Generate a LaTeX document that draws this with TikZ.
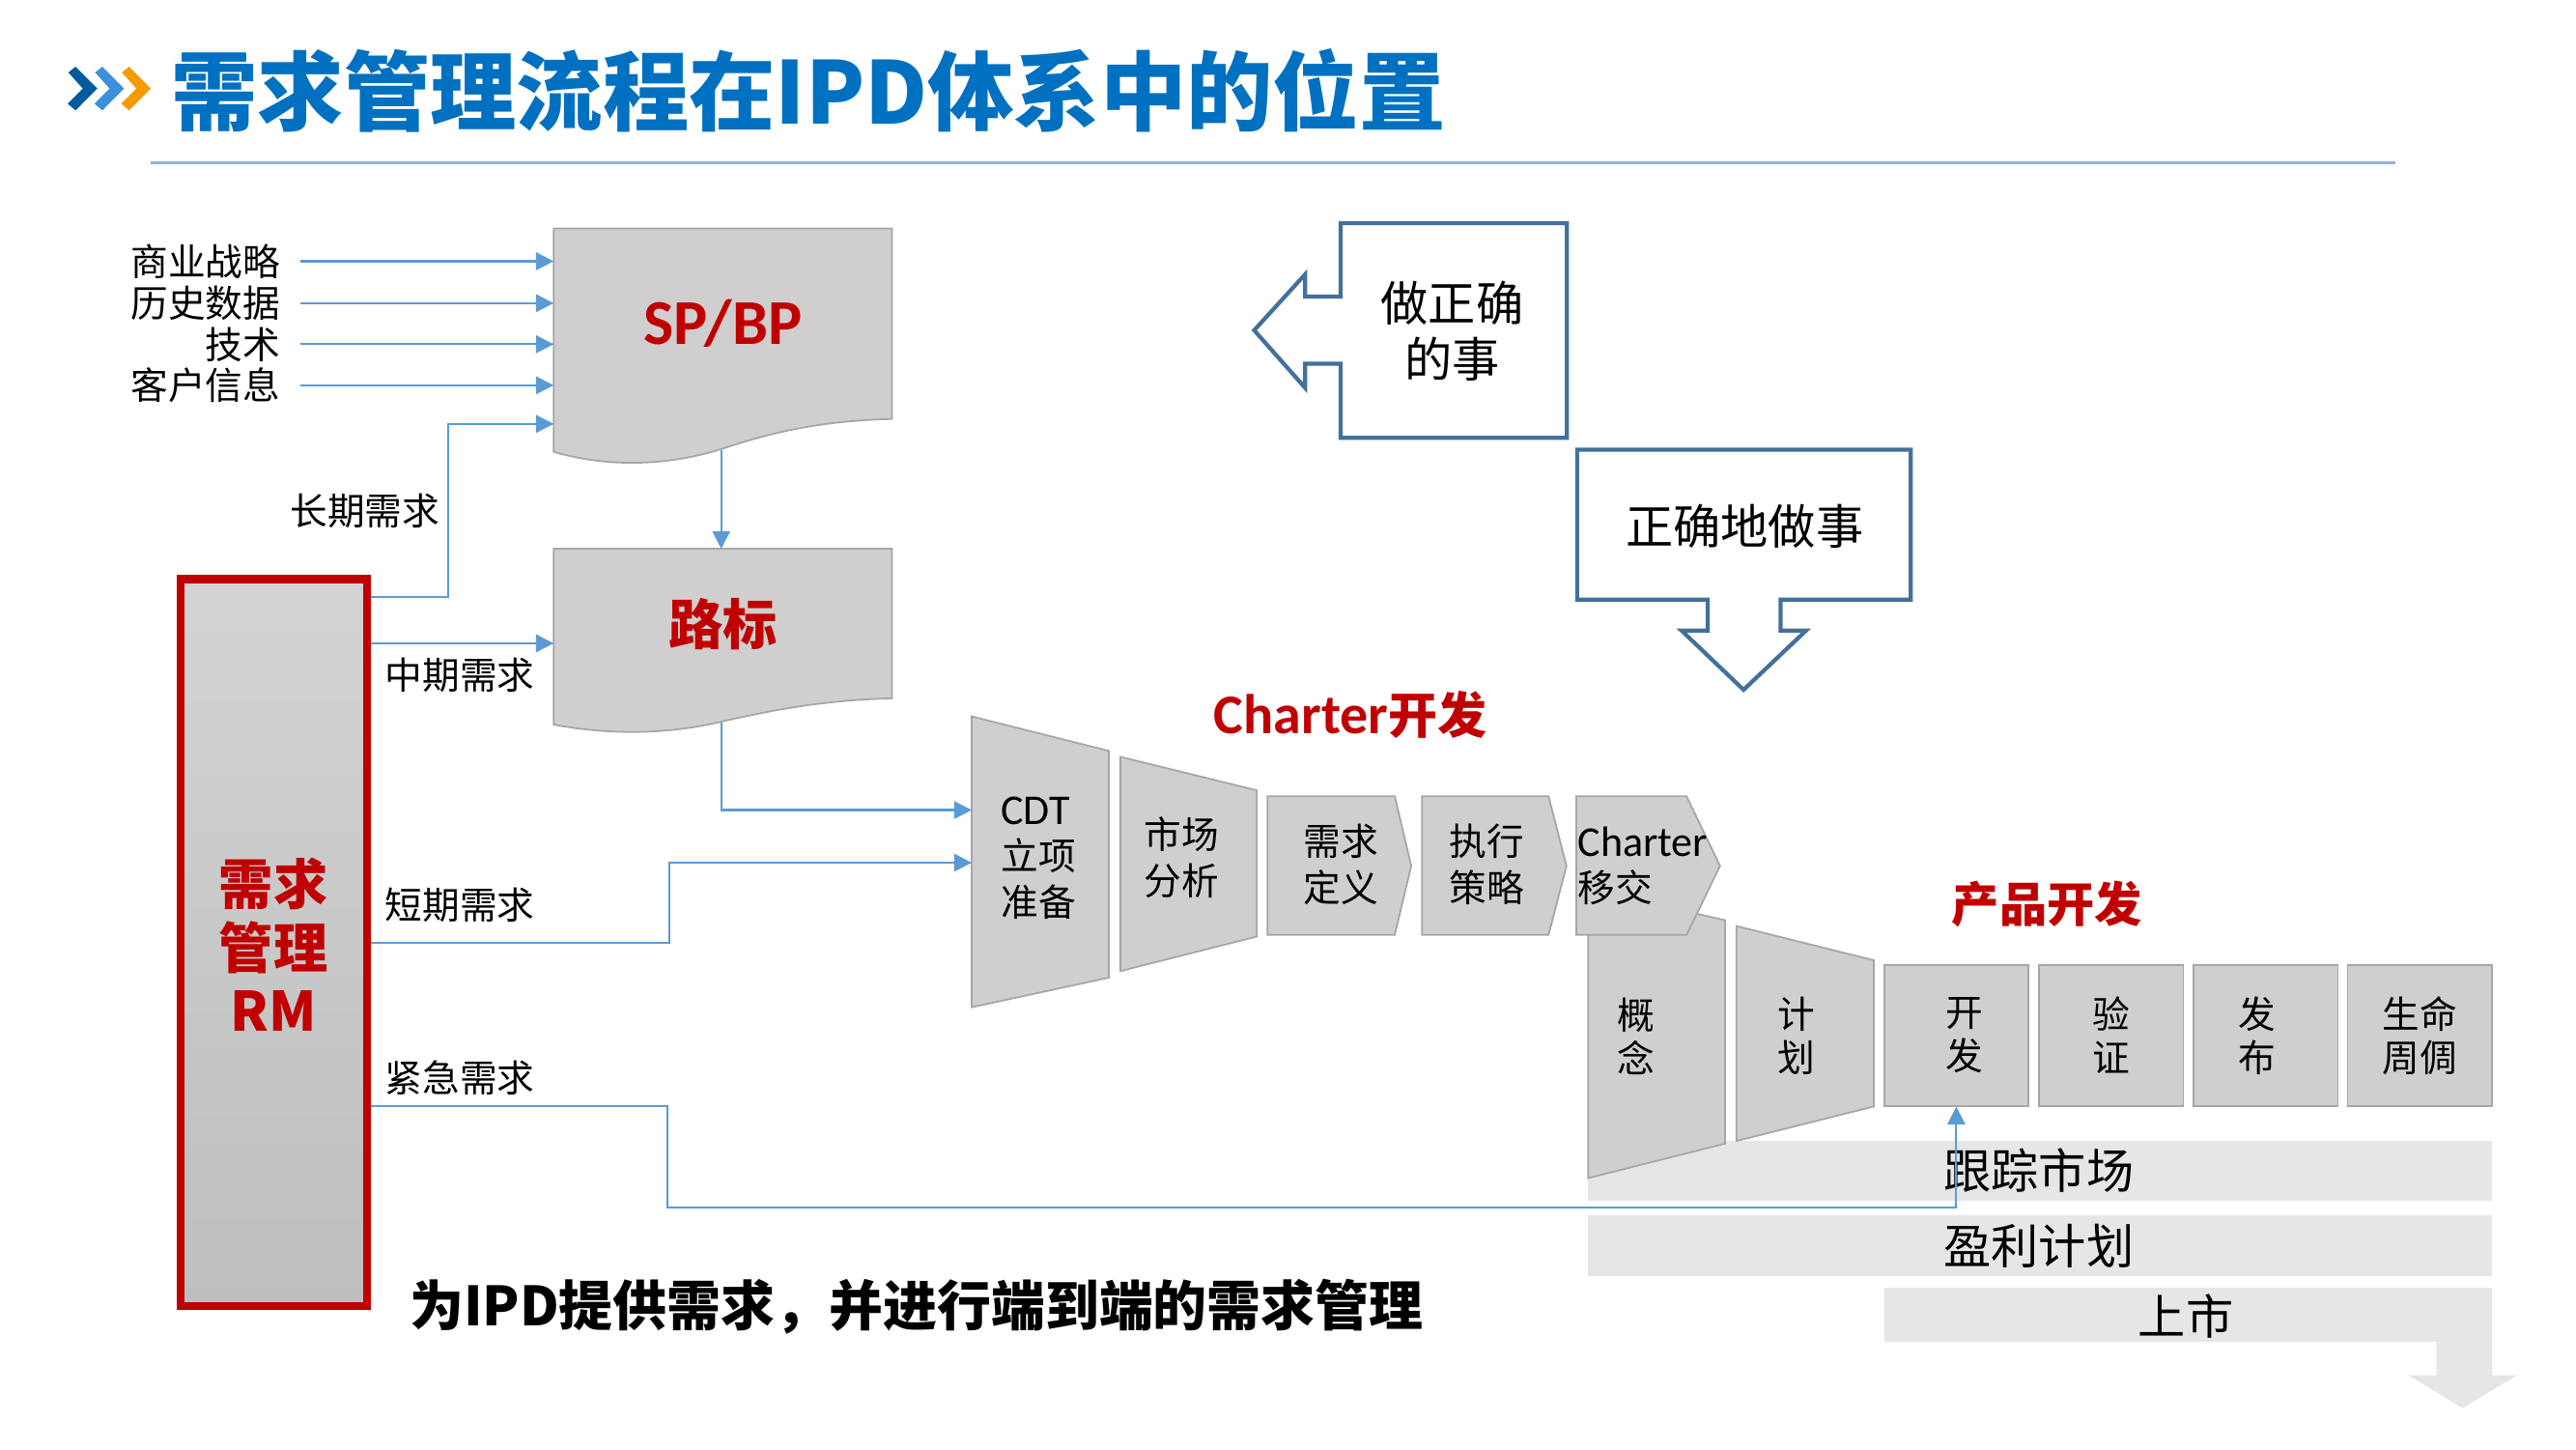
\documentclass[tikz,border=0pt]{standalone}
\usepackage{fontspec}
\setmainfont{Carlito}
\newfontfamily\cjk{Noto Sans CJK SC}
\newfontfamily\lat{Carlito}
\usetikzlibrary{arrows.meta}

\definecolor{titleblue}{HTML}{0070C0}
\definecolor{rulecol}{HTML}{8DB3E2}
\definecolor{chevA}{HTML}{005AA0}
\definecolor{chevB}{HTML}{3D8FDC}
\definecolor{chevC}{HTML}{F59B00}
\definecolor{linkblue}{HTML}{5B9BD5}
\definecolor{rmred}{HTML}{C00000}
\definecolor{rmtop}{HTML}{D3D3D3}
\definecolor{rmbot}{HTML}{BEBEBE}
\definecolor{stagegray}{HTML}{D0CECE}
\definecolor{edgegray}{HTML}{A6A6A6}
\definecolor{bandgray}{HTML}{E7E6E6}
\definecolor{calloutblue}{HTML}{41719C}

% Latin words set in Carlito, slightly larger than the CJK text around them
\newcommand\latin[1]{{\lat\fontsize{12.5}{13.5}\selectfont #1}}
\newcommand\latinb[2]{{\lat\bfseries\fontsize{#1}{#1}\selectfont #2}}

\begin{document}
\begin{tikzpicture}[x=0.017cm, y=-0.017cm,
  link/.style={draw=linkblue, line width=0.6pt},
  arr/.style={link, -{Triangle[length=5.2pt, width=5.2pt]}},
  stage/.style={fill=stagegray, draw=edgegray, line width=0.5pt},
  band/.style={fill=bandgray},
  callout/.style={draw=calloutblue, line width=1.2pt, fill=white},
  lbl/.style={inner sep=0pt, font=\cjk\fontsize{11}{13.5}\selectfont},
  stxt/.style={inner sep=0pt, align=left, font=\cjk\fontsize{11}{13.5}\selectfont},
  vtxt/.style={inner sep=0pt, align=center, font=\cjk\fontsize{11}{12.8}\selectfont},
  redlbl/.style={inner sep=0pt, text=rmred, font=\cjk\bfseries\fontsize{16}{18.6}\selectfont},
  bigtxt/.style={inner sep=0pt, font=\cjk\fontsize{14}{16.5}\selectfont},
]
\useasboundingbox (0,0) rectangle (1568,882);

% ---------- heading ----------
\foreach \dx/\c in {0/chevA,16.3/chevB,32.6/chevC}
  \fill[\c, shift={(\dx,0)}] (41.6,44.1) -- (46,40.6) -- (59.2,53.9) -- (46,67.2)
        -- (41.2,63.1) -- (50.4,53.9) -- cycle;
\node[anchor=west, inner sep=0pt, text=titleblue,
      font=\cjk\bfseries\fontsize{25.4}{30}\selectfont] (title) at (104,55)
      {需求管理流程在IPD体系中的位置};
\draw[rulecol, line width=0.8pt] (92,99) -- (1458,99);

% ---------- strategy documents ----------
\path[stage] (337,139) -- (543,139) -- (543,255)
   .. controls (500,256) and (470,263) .. (440,273)
   .. controls (412,282) and (375,286) .. (337,275) -- cycle;
\node[inner sep=0pt, text=rmred] (spbp) at (440,197) {\latinb{18.8}{SP/BP}};
\coordinate (spW) at (337,200);
\coordinate (spS) at (439,274);

\path[stage] (337,334) -- (543,334) -- (543,425)
   .. controls (505,426) and (475,431) .. (440,439)
   .. controls (415,445) and (380,449) .. (337,441) -- cycle;
\node[redlbl] (road) at (440,380) {路标};
\coordinate (rbW) at (337,390);
\coordinate (rbN) at (439,334);
\coordinate (rbS) at (439,440);

% inputs of SP/BP
\node[lbl, anchor=east] (in1) at (171,159) {商业战略};
\node[lbl, anchor=east] (in2) at (171,184.5) {历史数据};
\node[lbl, anchor=east] (in3) at (171,209.5) {技术};
\node[lbl, anchor=east] (in4) at (171,234.5) {客户信息};
\foreach \n in {in1,in2,in3,in4}
  \draw[arr, shorten <=0.2cm] (\n.east) -- (\n.east -| spW);

% ---------- requirement management column ----------
\node[draw=rmred, line width=2.4pt, top color=rmtop, bottom color=rmbot,
      minimum width=1.924cm, minimum height=7.52cm, inner sep=0pt] (rm) at (166.7,573.7) {};
\node[redlbl, align=center] (rmtxt) at (166.5,575) {需求\\管理\\RM};
\path (rm.north east) ++(0,13.5)  coordinate (rmLong)
      (rm.north east) ++(0,41.5)  coordinate (rmMid)
      (rm.north east) ++(0,224)   coordinate (rmShort)
      (rm.north east) ++(0,323)   coordinate (rmUrg);

\node[lbl, anchor=east] (lLong)  at (268,311) {长期需求};
\node[lbl, anchor=west] (lMid)   at (234,411) {中期需求};
\node[lbl, anchor=west] (lShort) at (234,551) {短期需求};
\node[lbl, anchor=west] (lUrg)   at (234,656) {紧急需求};

% ---------- bands under product development ----------
\path[band] (966.7,694.5) rectangle (1517,731);
\path[band] (966.7,739.6) rectangle (1517,776.6);
\path[band] (1147,783.7) -- (1517,783.7) -- (1517,837) -- (1532,837) -- (1499,857)
   -- (1466,837) -- (1483,837) -- (1483,816.6) -- (1147,816.6) -- cycle;
\node[bigtxt] (track)  at (1241,712.6) {跟踪市场};
\node[bigtxt] (profit) at (1241,758.5) {盈利计划};
\node[bigtxt] (launch) at (1330.6,800.8) {上市};

% ---------- product development stages ----------
\path[stage] (966.7,541) -- (1050,560) -- (1050,696) -- (966.7,717) -- cycle;
\path[stage] (1057,563.6) -- (1140.6,584.4) -- (1140.6,673.4) -- (1057,694.4) -- cycle;
\node[vtxt] (concept) at (995.6,630.5) {概\\念};
\node[vtxt] (plan)    at (1093.7,630.5) {计\\划};
\node[stage, vtxt, minimum width=1.489cm, minimum height=1.455cm] (dev) at (1190.8,630.2)
     {\hspace*{0.17cm}开\\\hspace*{0.17cm}发};
\node[stage, vtxt, minimum width=1.496cm, minimum height=1.455cm] (verify) at (1285,630.2) {验\\证};
\node[stage, vtxt, minimum width=1.496cm, minimum height=1.455cm] (release) at (1379,630.2)
     {发\hspace*{0.17cm}\\布\hspace*{0.17cm}};
\node[stage, vtxt, minimum width=1.496cm, minimum height=1.455cm] (life) at (1473,630.2) {生命\\周倜};
\node[redlbl, font=\cjk\bfseries\fontsize{14}{16}\selectfont] (pdtitle) at (1246,550) {产品开发};

% ---------- charter development stages ----------
\path[stage] (591.5,436) -- (675,457) -- (675,595) -- (591.5,613) -- cycle;
\path[stage] (682,460.6) -- (765,481) -- (765,570) -- (682,591) -- cycle;
\path[stage] (771.5,484.6) -- (849,484.6) -- (859,527) -- (849,569) -- (771.5,569) -- cycle;
\path[stage] (865.5,484.6) -- (942.6,484.6) -- (953.5,527) -- (942.6,569) -- (865.5,569) -- cycle;
\path[stage] (959.5,484.6) -- (1026.6,484.6) -- (1047,527) -- (1026.6,569) -- (959.5,569) -- cycle;
\node[stxt, anchor=west] (cdt)    at (609,522) {\latin{CDT}\\立项\\准备};
\node[stxt, anchor=west] (market) at (696,522) {市场\\分析};
\node[stxt, anchor=west] (reqdef) at (793,526) {需求\\定义};
\node[stxt, anchor=west] (exec)   at (882,526) {执行\\策略};
\node[stxt, anchor=west] (handover) at (960,527) {\latin{Charter}\\移交};
\node[inner sep=0pt, text=rmred, font=\cjk\bfseries\fontsize{14.5}{16}\selectfont] (chtitle) at (822,435)
     {\latinb{16.5}{Charter}开发};

% ---------- requirement flows ----------
\coordinate (kLong)  at (273,0);
\coordinate (kShort) at (407.5,0);
\coordinate (kUrg)   at (406,0);
\coordinate (kLow)   at (0,735);
\coordinate (cdtIn1) at (591.5,493);
\coordinate (cdtIn2) at (591.5,525);
\coordinate (spIn5)  at (337,258);

\draw[arr] (spS) -- (rbN);
\draw[arr] (rbS) -- (rbS |- cdtIn1) -- (cdtIn1);
\draw[arr] (rmLong) -- (rmLong -| kLong) -- (kLong |- spIn5) -- (spIn5);
\draw[arr] (rmMid) -- (rmMid -| rbW);
\draw[arr] (rmShort) -- (rmShort -| kShort) -- (kShort |- cdtIn2) -- (cdtIn2);
\draw[arr] (rmUrg) -- (rmUrg -| kUrg) -- (kUrg |- kLow) -- (dev.south |- kLow) -- (dev.south);

% ---------- callouts ----------
\path[callout] (953.8,135.8) -- (816,135.8) -- (816,180.5) -- (794.4,180.5) -- (794.4,167)
   -- (763.4,201) -- (794.4,236) -- (794.4,221.4) -- (816,221.4) -- (816,266.5)
   -- (953.8,266.5) -- cycle;
\node[bigtxt, align=center] (rightthing) at (884,201.5) {做正确\\的事};
\path[callout] (960,273.7) -- (1163,273.7) -- (1163,365) -- (1083.8,365) -- (1083.8,383.7)
   -- (1099.4,383.7) -- (1061.3,419.8) -- (1023.5,383.7) -- (1039.4,383.7) -- (1039.4,365)
   -- (960,365) -- cycle;
\node[bigtxt] (rightway) at (1062,320) {正确地做事};

% ---------- summary ----------
\node[anchor=west, inner sep=0pt, font=\cjk\bfseries\fontsize{15.9}{19}\selectfont] (summary) at (249,795)
     {为IPD提供需求，并进行端到端的需求管理};
\end{tikzpicture}
\end{document}
